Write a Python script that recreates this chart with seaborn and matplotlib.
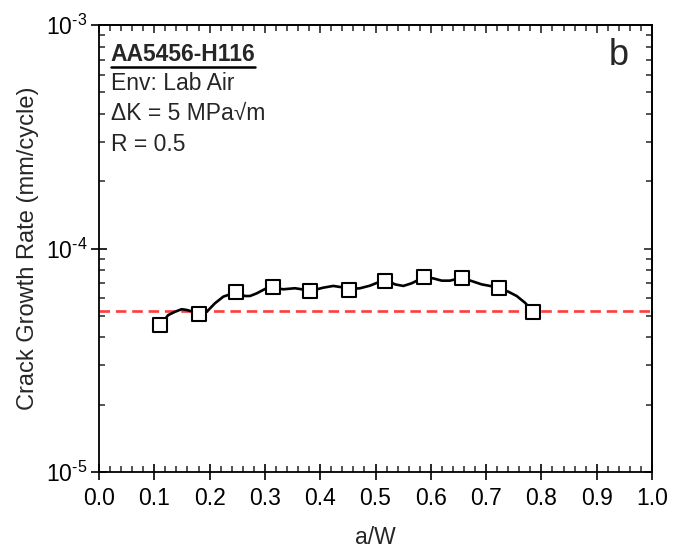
import matplotlib
matplotlib.use("Agg")
import matplotlib.pyplot as plt
import matplotlib.ticker as mticker
from matplotlib.lines import Line2D
import seaborn as sns
import pandas as pd
import math

# ---- data ----
marker_aw = [0.111, 0.180, 0.248, 0.314, 0.382, 0.452, 0.518, 0.588, 0.656, 0.724, 0.785]
marker_rate = [4.56e-5, 5.11e-5, 6.37e-5, 6.71e-5, 6.48e-5, 6.54e-5, 7.18e-5, 7.45e-5, 7.40e-5, 6.64e-5, 5.18e-5]

curve_aw = [0.1116, 0.1253, 0.1374, 0.1495, 0.1586, 0.1705, 0.1796, 0.1948, 0.2098, 0.2248,
            0.2477, 0.2640, 0.2731, 0.2852, 0.3002, 0.3141, 0.3333, 0.3544, 0.3665, 0.3846,
            0.4056, 0.4237, 0.4389, 0.4521, 0.4720, 0.4901, 0.5051, 0.5190, 0.5353, 0.5503,
            0.5655, 0.5774, 0.5877, 0.6045, 0.6197, 0.6347, 0.6559, 0.6740, 0.6920, 0.7071,
            0.7221, 0.7401, 0.7553, 0.7703, 0.7854]
curve_rate = [4.58e-5, 5.04e-5, 5.21e-5, 5.35e-5, 5.31e-5, 5.21e-5, 5.13e-5, 5.21e-5, 5.69e-5, 6.09e-5,
              6.37e-5, 6.13e-5, 6.13e-5, 6.30e-5, 6.59e-5, 6.68e-5, 6.57e-5, 6.64e-5, 6.57e-5, 6.48e-5,
              6.68e-5, 6.80e-5, 6.71e-5, 6.57e-5, 6.64e-5, 6.82e-5, 7.06e-5, 7.23e-5, 6.91e-5, 6.80e-5,
              6.99e-5, 7.23e-5, 7.43e-5, 7.35e-5, 7.18e-5, 7.18e-5, 7.40e-5, 7.15e-5, 6.91e-5, 6.80e-5,
              6.64e-5, 6.41e-5, 6.13e-5, 5.72e-5, 5.21e-5]

reference_rate = 5.25e-5

x_ticks = [0.0, 0.1, 0.2, 0.3, 0.4, 0.5, 0.6, 0.7, 0.8, 0.9, 1.0]
x_labels = ["0.0", "0.1", "0.2", "0.3", "0.4", "0.5", "0.6", "0.7", "0.8", "0.9", "1.0"]
y_ticks = [1e-5, 1e-4, 1e-3]
info_title = "AA5456-H116"
info_lines = ["Env: Lab Air", "\u0394K = 5 MPa\u221am", "R = 0.5"]
panel_label = "b"

# ---- style ----
sns.set_style("ticks")
plt.rcParams["font.family"] = ["Liberation Sans", "DejaVu Sans"]
plt.rcParams["mathtext.fontset"] = "custom"
plt.rcParams["mathtext.rm"] = "Liberation Sans"
plt.rcParams["mathtext.it"] = "Liberation Sans:italic"
plt.rcParams["mathtext.bf"] = "Liberation Sans:bold"
plt.rcParams["axes.unicode_minus"] = False

fig = plt.figure(figsize=(6.79, 5.48), dpi=100)
ax = fig.add_axes([99 / 679, 1 - 472 / 548, 553 / 679, 447 / 548])

curve_df = pd.DataFrame({"aw": curve_aw, "rate": curve_rate})
marker_df = pd.DataFrame({"aw": marker_aw, "rate": marker_rate})

ax.axhline(reference_rate, color="#ff3b3b", lw=1.9, dashes=(4, 2.2), zorder=1)
sns.lineplot(data=curve_df, x="aw", y="rate", ax=ax, color="black", lw=1.9,
             sort=False, estimator=None, zorder=2)
sns.scatterplot(data=marker_df, x="aw", y="rate", ax=ax, marker="s", s=105,
                facecolor="white", edgecolor="black", linewidth=1.5, zorder=3)

ax.set_yscale("log")
ax.set_xlim(0, 1)
ax.set_ylim(1e-5, 1e-3)
ax.set_xticks(x_ticks)
ax.set_xticklabels(x_labels)
ax.xaxis.set_minor_locator(mticker.MultipleLocator(0.02))
ax.set_yticks(y_ticks)
ax.set_yticklabels([r"10$^{\mathregular{\text{%d}}}$" % int(round(math.log10(v))) for v in y_ticks])
ax.yaxis.set_minor_locator(mticker.LogLocator(base=10, subs=range(2, 10), numticks=20))
ax.yaxis.set_minor_formatter(mticker.NullFormatter())

for sp in ax.spines.values():
    sp.set_linewidth(1.3)
    sp.set_color("black")

ax.tick_params(which="major", direction="inout", length=11, width=1.2, labelsize=16.5,
               colors="black", pad=3)
ax.tick_params(which="minor", direction="in", length=4, width=1.1)
ax.tick_params(axis="x", which="major", pad=5)

# top and right ticks (inside only)
secx = ax.secondary_xaxis("top")
secx.set_xticks(x_ticks)
secx.xaxis.set_minor_locator(mticker.MultipleLocator(0.02))
secx.tick_params(which="major", direction="in", length=6, width=1.2, labeltop=False)
secx.tick_params(which="minor", direction="in", length=4, width=1.1)
secx.set_xticklabels([])
secy = ax.secondary_yaxis("right")
secy.set_yticks(y_ticks)
secy.yaxis.set_minor_locator(mticker.LogLocator(base=10, subs=range(2, 10), numticks=20))
secy.tick_params(which="major", direction="in", length=6, width=1.2, labelright=False)
secy.tick_params(which="minor", direction="in", length=4, width=1.1)
secy.yaxis.set_major_formatter(mticker.NullFormatter())
secy.yaxis.set_minor_formatter(mticker.NullFormatter())
for s in list(secx.spines.values()) + list(secy.spines.values()):
    s.set_linewidth(1.3)

ax.set_xlabel("a/W", fontsize=16.5, labelpad=12)
ax.set_ylabel("Crack Growth Rate (mm/cycle)", fontsize=17, labelpad=5)

# annotation block
t = ax.text(0.021, 0.935, info_title, transform=ax.transAxes, fontsize=16.5,
            fontweight="bold", ha="left", va="center")
for i, line in enumerate(info_lines):
    ax.text(0.021, 0.870 - i * 0.0685, line, transform=ax.transAxes, fontsize=16.5,
            ha="left", va="center")
ax.text(0.958, 0.932, panel_label, transform=ax.transAxes, fontsize=26,
        ha="right", va="center")

fig.canvas.draw()
bb = t.get_window_extent(renderer=fig.canvas.get_renderer())
bbf = bb.transformed(fig.transFigure.inverted())
uy = bbf.y0 - 1.0 / 548
fig.add_artist(Line2D([bbf.x0, bbf.x1], [uy, uy], transform=fig.transFigure,
                      color="black", lw=1.8))

fig.savefig("out.png", dpi=100)
